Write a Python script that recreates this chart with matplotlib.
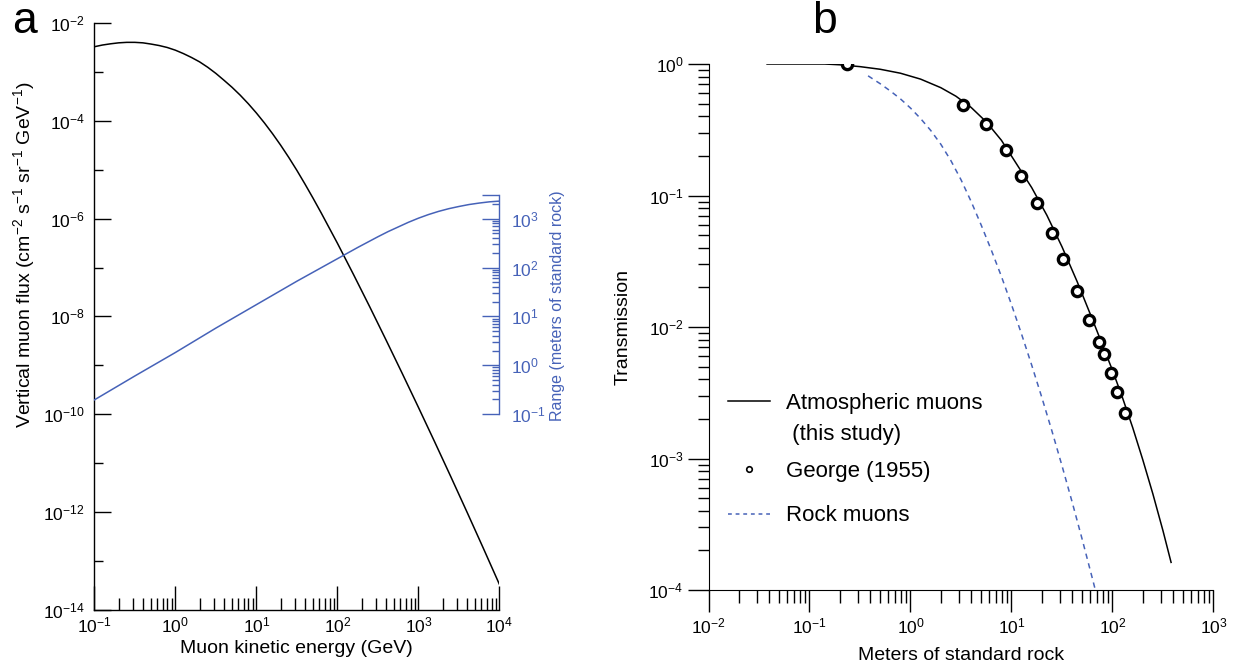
#muon flux / range (panel a) and transmission through rock (panel b)
import numpy as np
import matplotlib
matplotlib.use('Agg')
import matplotlib.pyplot as plt
from matplotlib.lines import Line2D
from matplotlib.ticker import FixedLocator, LogLocator, LogFormatterSciNotation, NullFormatter

plt.rcParams['font.family'] = ['Liberation Sans', 'DejaVu Sans']
plt.rcParams['mathtext.fontset'] = 'custom'
plt.rcParams['mathtext.rm'] = 'Liberation Sans'
plt.rcParams['mathtext.it'] = 'Liberation Sans:italic'
plt.rcParams['mathtext.bf'] = 'Liberation Sans:bold'
plt.rcParams['mathtext.sf'] = 'Liberation Sans'

#values, stored as log10
#panel a - vertical flux (cm-2 s-1 sr-1 GeV-1) vs kinetic energy (GeV)
log_energy_flux = [-1.0, -0.9, -0.8, -0.7, -0.6, -0.5, -0.4, -0.3, -0.2, -0.1, 0.0, 0.1, 0.2, 0.3,
                   0.4, 0.5, 0.6, 0.7, 0.8, 0.9, 1.0, 1.1, 1.2, 1.3, 1.4, 1.5, 1.6, 1.7, 1.8, 1.9,
                   2.0, 2.2, 2.4, 2.6, 2.8, 3.0, 3.2, 3.4, 3.6, 3.8, 4.0]
log_flux = [-2.48, -2.445, -2.42, -2.40, -2.39, -2.39, -2.40, -2.425, -2.455, -2.495, -2.55, -2.62,
            -2.70, -2.79, -2.90, -3.025, -3.165, -3.31, -3.47, -3.645, -3.835, -4.04, -4.26,
            -4.495, -4.745, -5.01, -5.29, -5.58, -5.88, -6.19, -6.50, -7.145, -7.805, -8.48,
            -9.165, -9.86, -10.565, -11.28, -12.005, -12.74, -13.485]

#range in meters of standard rock
log_energy_range = [-1.0, -0.5, 0.0, 0.5, 1.0, 1.5, 1.75, 2.0, 2.125, 2.25, 2.375, 2.5, 2.625,
                    2.75, 2.875, 3.0, 3.125, 3.25, 3.375, 3.5, 3.625, 3.75, 3.875, 4.0]
log_range = [-0.71, -0.22, 0.26, 0.76, 1.24, 1.72, 1.95, 2.18, 2.295, 2.41, 2.52, 2.63, 2.735,
             2.83, 2.925, 3.01, 3.085, 3.15, 3.205, 3.25, 3.29, 3.32, 3.345, 3.36]

#panel b - transmission vs depth (m of standard rock)
log_atm_depth = [-1.42, -0.85, -0.7, -0.5, -0.3, -0.1, 0.1, 0.3, 0.45, 0.6, 0.75, 0.9, 1.05, 1.2,
                 1.35, 1.5, 1.65, 1.8, 2.0, 2.1, 2.2, 2.3, 2.4, 2.5, 2.58]
log_atm_trans = [0.0, 0.0, -0.006, -0.02, -0.04, -0.07, -0.115, -0.18, -0.245, -0.33, -0.44, -0.58,
                 -0.76, -0.94, -1.15, -1.39, -1.655, -1.94, -2.33, -2.54, -2.765, -3.01, -3.27,
                 -3.55, -3.79]

george_depth = [0.233, 3.33, 5.56, 8.77, 12.4, 17.8, 25.0, 32.6, 44.8, 58.9, 73.5, 82.4, 96, 112, 133]
george_trans = [1.0, 0.492, 0.348, 0.223, 0.141, 0.0884, 0.0515, 0.0329, 0.0188, 0.0113, 0.0077,
                0.0062, 0.0045, 0.0032, 0.0022]

log_rock_depth = [-0.42, -0.3, -0.2, -0.1, 0.0, 0.1, 0.2, 0.3, 0.4, 0.5, 0.6, 0.7, 0.8, 0.9, 1.0,
                  1.1, 1.2, 1.3, 1.4, 1.5, 1.6, 1.7, 1.8, 1.83]
log_rock_trans = [-0.09, -0.15, -0.205, -0.265, -0.335, -0.415, -0.505, -0.61, -0.735, -0.88,
                  -1.045, -1.225, -1.415, -1.615, -1.83, -2.055, -2.29, -2.535, -2.79, -3.055,
                  -3.33, -3.615, -3.91, -4.0]

blue = '#4662b8'
W, H = 1239, 666
fig = plt.figure(figsize=(W / 100, H / 100), dpi=100)

#PANEL A
axa = fig.add_axes([94.3 / W, (H - 609.5) / H, 405.1 / W, 586.2 / H])
axa.plot(10.0 ** np.array(log_energy_flux), 10.0 ** np.array(log_flux), color='black', lw=1.1)
axa.set_xscale('log')
axa.set_yscale('log')
axa.set_xlim(0.1, 1e4)
axa.set_ylim(1e-14, 1e-2)
for s in ['top', 'right']:
    axa.spines[s].set_visible(False)
for s in ['left', 'bottom']:
    axa.spines[s].set_linewidth(1)
axa.xaxis.set_major_locator(LogLocator(base=10, numticks=20))
axa.xaxis.set_minor_locator(LogLocator(base=10, subs=np.arange(2, 10), numticks=100))
axa.xaxis.set_minor_formatter(NullFormatter())
axa.yaxis.set_major_locator(FixedLocator(10.0 ** np.arange(-14, -1, 2)))
axa.yaxis.set_minor_locator(FixedLocator(10.0 ** np.arange(-13, -2, 2)))
axa.yaxis.set_major_formatter(LogFormatterSciNotation())
axa.yaxis.set_minor_formatter(NullFormatter())
axa.tick_params(axis='x', which='major', direction='in', length=17, width=1, pad=4, labelsize=12.5)
axa.tick_params(axis='x', which='minor', direction='in', length=8.5, width=1)
axa.tick_params(axis='y', which='major', direction='in', length=12, width=1, pad=7, labelsize=12.5)
axa.tick_params(axis='y', which='minor', direction='in', length=6.5, width=1)
axa.set_xlabel('Muon kinetic energy (GeV)', fontsize=14)
axa.xaxis.set_label_coords(0.5, -0.052)
axa.set_ylabel(r'Vertical muon flux (cm$^{-2}$ s$^{-1}$ sr$^{-1}$ GeV$^{-1}$)', fontsize=14)
axa.yaxis.set_label_coords(-0.141, 0.605)

#range axis, same decades shifted by 1e9
ax2 = axa.twinx()
ax2.set_yscale('log')
ax2.set_ylim(1e-5, 1e7)
ax2.plot(10.0 ** np.array(log_energy_range), 10.0 ** np.array(log_range), color=blue, lw=1.1)
for s in ['top', 'left', 'bottom']:
    ax2.spines[s].set_visible(False)
ax2.spines['right'].set_color(blue)
ax2.spines['right'].set_linewidth(1)
ax2.spines['right'].set_bounds(0.1, 3000)
ax2.yaxis.set_major_locator(FixedLocator([0.1, 1, 10, 100, 1000, 3000]))
ax2.yaxis.set_minor_locator(FixedLocator([k * 10.0 ** n for n in range(-1, 4) for k in range(2, 10)
                                          if k * 10.0 ** n < 3000]))
ax2.yaxis.set_major_formatter(LogFormatterSciNotation(labelOnlyBase=True))
ax2.yaxis.set_minor_formatter(NullFormatter())
ax2.tick_params(axis='y', which='major', direction='in', length=12, width=1, color=blue,
                labelcolor=blue, pad=8, labelsize=12.5)
ax2.tick_params(axis='y', which='minor', direction='in', length=5, width=1, color=blue)
ax2.set_ylabel('Range (meters of standard rock)', color=blue, fontsize=11.5)
ax2.yaxis.set_label_coords(1.125, 0.519)

#PANEL B
axb = fig.add_axes([708.5 / W, (H - 590) / H, 505 / W, 526 / H])
axb.plot(10.0 ** np.array(log_atm_depth), 10.0 ** np.array(log_atm_trans), color='black', lw=1.1)
axb.plot(george_depth, george_trans, 'o', ms=7.4, mew=2.4, mfc='white', mec='black')
axb.plot(10.0 ** np.array(log_rock_depth), 10.0 ** np.array(log_rock_trans), color=blue, lw=1.1,
         dashes=(3.5, 3))
axb.set_xscale('log')
axb.set_yscale('log')
axb.set_xlim(1e-2, 1e3)
axb.set_ylim(1e-4, 1)
for s in ['top', 'right']:
    axb.spines[s].set_visible(False)
axb.xaxis.set_major_locator(LogLocator(base=10, numticks=20))
axb.xaxis.set_minor_locator(LogLocator(base=10, subs=np.arange(2, 10), numticks=100))
axb.yaxis.set_major_locator(LogLocator(base=10, numticks=20))
axb.yaxis.set_minor_locator(LogLocator(base=10, subs=np.arange(2, 10), numticks=100))
axb.xaxis.set_minor_formatter(NullFormatter())
axb.yaxis.set_minor_formatter(NullFormatter())
axb.tick_params(axis='x', which='major', direction='out', length=16, width=1, pad=3, labelsize=12.5)
axb.tick_params(axis='x', which='minor', direction='out', length=9, width=1)
axb.tick_params(axis='y', which='major', direction='out', length=15, width=1, pad=3, labelsize=12.5)
axb.tick_params(axis='y', which='minor', direction='out', length=8, width=1)
axb.set_xlabel('Meters of standard rock', fontsize=14)
axb.xaxis.set_label_coords(0.5, -0.109)
axb.set_ylabel('Transmission', fontsize=14)
axb.yaxis.set_label_coords(-0.152, 0.5)

#legend in two parts so the rows can be spaced like the original
leg_kw = dict(loc='upper left', bbox_transform=fig.transFigure, frameon=False, fontsize=16,
              borderpad=0, borderaxespad=0, handlelength=1.9, handletextpad=0.7)
h1 = [Line2D([], [], color='black', lw=1.1), Line2D([], [], linestyle='none')]
leg1 = axb.legend(h1, ['Atmospheric muons', ' (this study)'], bbox_to_anchor=(728 / W, 1 - 393 / H),
                  labelspacing=0.45, **leg_kw)
axb.add_artist(leg1)
h2 = [Line2D([], [], linestyle='none', marker='o', ms=4, mew=1.2, mfc='white', mec='black'),
      Line2D([], [], color=blue, lw=1.1, dashes=(2.5, 2.5))]
axb.legend(h2, ['George (1955)', 'Rock muons'], bbox_to_anchor=(728 / W, 1 - 461 / H),
           labelspacing=1.05, **leg_kw)

fig.text(12 / W, 1 - 33 / H, 'a', fontsize=32, ha='left', va='baseline')
fig.text(812 / W, 1 - 33 / H, 'b', fontsize=32, ha='left', va='baseline')

plt.savefig('out.png', dpi=100)
